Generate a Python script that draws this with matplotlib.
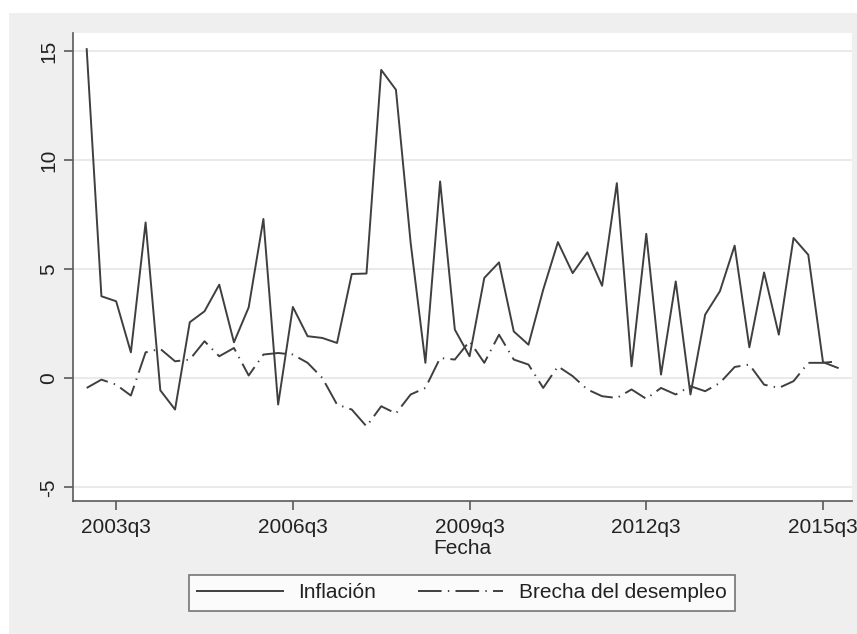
import matplotlib
matplotlib.use("Agg")
import matplotlib.pyplot as plt
from matplotlib.patches import Rectangle
import numpy as np

# Quarterly series, 2003q1 - 2015q4
inflacion = [15.08, 3.76, 3.53, 1.19, 7.14, -0.55, -1.43, 2.57, 3.07, 4.29,
             1.65, 3.25, 7.30, -1.20, 3.27, 1.93, 1.85, 1.62, 4.78, 4.80,
             14.13, 13.22, 6.20, 0.71, 9.02, 2.23, 1.01, 4.60, 5.31, 2.15,
             1.54, 4.06, 6.24, 4.82, 5.77, 4.24, 8.94, 0.55, 6.62, 0.17,
             4.44, -0.74, 2.92, 3.99, 6.08, 1.42, 4.85, 2.00, 6.43, 5.66,
             0.74, 0.48]
brecha = [-0.44, -0.06, -0.29, -0.79, 1.19, 1.35, 0.78, 0.86, 1.70, 1.01,
          1.39, 0.13, 1.09, 1.16, 1.09, 0.71, 0.02, -1.20, -1.43, -2.20,
          -1.28, -1.61, -0.74, -0.44, 0.93, 0.86, 1.70, 0.71, 2.00, 0.86,
          0.63, -0.44, 0.55, 0.10, -0.51, -0.82, -0.90, -0.51, -0.94, -0.44,
          -0.74, -0.36, -0.59, -0.21, 0.52, 0.63, -0.29, -0.44, -0.13, 0.71,
          0.71, 0.78]
quarters = [f"{y}q{q}" for y in range(2003, 2016) for q in range(1, 5)]
tick_labels = ["2003q3", "2006q3", "2009q3", "2012q3", "2015q3"]
y_ticks = [-5, 0, 5, 10, 15]

plt.rcParams['font.family'] = ['Liberation Sans', 'DejaVu Sans']
plt.rcParams['lines.scale_dashes'] = False

W, H = 857, 634
fig = plt.figure(figsize=(W / 100, H / 100), dpi=100, facecolor='white')
# gray outer region (Stata style), small white margin top/left
fig.add_artist(Rectangle((9 / W, 0), 1 - 9 / W, (H - 13) / H,
                         transform=fig.transFigure, facecolor='#EFEFEF',
                         edgecolor='none', zorder=-10))

ax = fig.add_axes([73 / W, (H - 501) / H, (852 - 73) / W, (501 - 33) / H])
ax.set_facecolor('white')

x = np.arange(len(quarters))
line_col = '#3f3f3f'
l1, = ax.plot(x, inflacion, color=line_col, lw=1.4, label='Inflación')
l2, = ax.plot(x, brecha, color=line_col, lw=1.4,
              dashes=(17, 4.5, 1.0, 4.5), label='Brecha del desempleo')

ax.set_xlim(-0.93, 51.97)
ax.set_ylim(-5.62, 15.82)
ax.set_xticks([quarters.index(t) for t in tick_labels])
ax.set_xticklabels(tick_labels)
ax.set_yticks(y_ticks)
ax.set_yticklabels([str(v) for v in y_ticks], rotation=90, va='center')

ax.grid(axis='y', color='#EAEAEA', lw=1.5)
ax.set_axisbelow(True)
for s in ['top', 'right']:
    ax.spines[s].set_visible(False)
for s in ['left', 'bottom']:
    ax.spines[s].set_color('#5a5a5a')
    ax.spines[s].set_linewidth(1.2)

ax.tick_params(axis='both', direction='out', length=6.5, width=1.2,
               color='#5a5a5a', labelsize=15, labelcolor='#222222')
ax.tick_params(axis='x', pad=6)
ax.tick_params(axis='y', pad=4)

ax.set_xlabel('Fecha', fontsize=15, color='#222222', labelpad=1)

leg = fig.legend(handles=[l1, l2], loc='center', ncol=2,
                 bbox_to_anchor=(462 / W, 1 - 593 / H),
                 bbox_transform=fig.transFigure, fontsize=15,
                 frameon=True, fancybox=False, handlelength=4.1,
                 handletextpad=0.75, columnspacing=2.0, borderpad=0.4,
                 borderaxespad=0)
leg.get_frame().set_edgecolor('#555555')
leg.get_frame().set_linewidth(1.2)
leg.get_frame().set_facecolor('white')
for t in leg.get_texts():
    t.set_color('#222222')

fig.savefig('out.png', dpi=100)
